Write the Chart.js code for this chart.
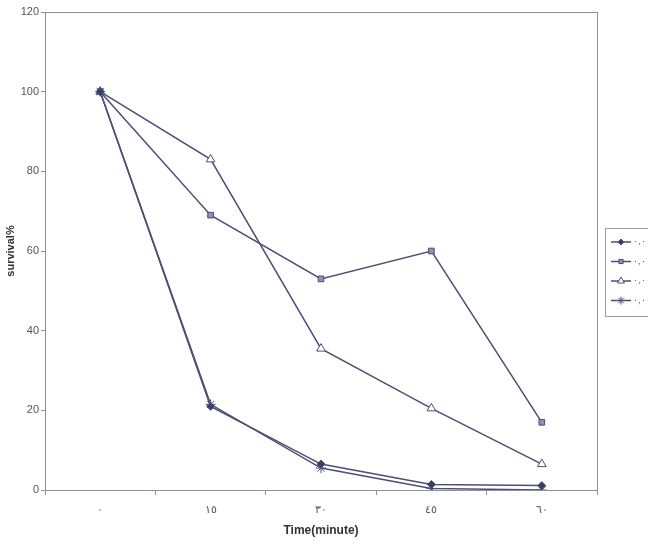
<!DOCTYPE html>
<html>
<head>
<meta charset="utf-8">
<script src="https://cdn.jsdelivr.net/npm/chart.js@4.4.1/dist/chart.umd.min.js"></script>
<style>
    html, body { margin: 0; padding: 0; background: #fff; }
    #wrap { width: 648px; height: 550px; }
</style>
</head>
<body>
<div id="wrap"><canvas id="survivalChart"></canvas></div>
<script>
const timeLabels = ["٠", "١٥", "٣٠", "٤٥", "٦٠"];
const seriesNames = ["٠,٠٠٢", "٠,٠٠٣", "٠,٠٠٤", "٠,٠٠٦"];
const series1 = [100, 21, 6.5, 1.4, 1.1];
const series2 = [100, 69, 53, 60, 17];
const series3 = [100, 83, 35.5, 20.5, 6.5];
const series4 = [100, 21.5, 5.5, 0.4, 0];
const yTicks = [0, 20, 40, 60, 80, 100, 120];

const lineColor = "#4a4f76";
const tickFont = { family: "'Liberation Sans Narrow', 'Liberation Sans', Arial", size: 11 };

function makeSet(label, data, style, fill, radius) {
    return {
        label: label,
        data: data,
        borderColor: lineColor,
        borderWidth: 1.5,
        pointStyle: style,
        pointRadius: radius,
        pointBackgroundColor: fill,
        pointBorderColor: lineColor,
        pointBorderWidth: 1,
        tension: 0
    };
}

const datasets = [
    makeSet(seriesNames[0], series1, "rectRot", "#3a3f66", 4),
    makeSet(seriesNames[1], series2, "rect", "#8c92b4", 4),
    makeSet(seriesNames[2], series3, "triangle", "#ffffff", 5),
    makeSet(seriesNames[3], series4, "star", lineColor, 5)
];

// box round the plot and the boxed legend at the right edge
const framePlugin = {
    id: "frame",
    afterDraw(chart) {
        const { ctx, chartArea: a } = chart;
        ctx.save();
        ctx.strokeStyle = "#8d90a3";
        ctx.lineWidth = 1;
        ctx.strokeRect(Math.round(a.left) + 0.5, Math.round(a.top) + 0.5,
            Math.round(a.right - a.left), Math.round(a.bottom - a.top));

        const boxX = 605, boxY = 228, boxH = 88;
        ctx.strokeStyle = "#9a9cab";
        ctx.strokeRect(boxX + 0.5, boxY + 0.5, 60, boxH);
        chart.data.datasets.forEach((ds, i) => {
            const y = 242 + i * 19.5;
            ctx.strokeStyle = lineColor;
            ctx.lineWidth = 1.5;
            ctx.beginPath();
            ctx.moveTo(611, y);
            ctx.lineTo(631, y);
            ctx.stroke();
            ctx.fillStyle = ds.pointBackgroundColor;
            ctx.strokeStyle = lineColor;
            ctx.lineWidth = 1;
            Chart.helpers.drawPoint(ctx, { pointStyle: ds.pointStyle, radius: ds.pointRadius - 1, rotation: 0, borderWidth: 1 }, 621, y);
            ctx.fillStyle = "#555";
            ctx.font = "9px 'Liberation Sans', Arial";
            ctx.textBaseline = "middle";
            ctx.textAlign = "left";
            ctx.fillText(ds.label, 633, y);
        });
        ctx.restore();
    }
};

new Chart(document.getElementById("survivalChart"), {
    type: "line",
    data: { labels: timeLabels, datasets: datasets },
    options: {
        responsive: true,
        maintainAspectRatio: false,
        animation: false,
        layout: { padding: { top: 12, right: 51, left: 0, bottom: 0 } },
        plugins: {
            legend: { display: false },
            tooltip: { enabled: false }
        },
        scales: {
            x: {
                offset: true,
                grid: { display: true, offset: true, drawOnChartArea: false, tickLength: 5, color: "#8d90a3" },
                border: { color: "#8d90a3" },
                ticks: { color: "#555", font: tickFont, padding: 8 },
                title: {
                    display: true,
                    text: "Time(minute)",
                    color: "#333",
                    font: { family: "'Liberation Sans Narrow', 'Liberation Sans', Arial", size: 12, weight: "bold" },
                    padding: { top: 0, bottom: 12 }
                },
                afterFit(scale) { scale.height = 60; }
            },
            y: {
                min: 0,
                max: 120,
                afterBuildTicks(scale) { scale.ticks = yTicks.map(v => ({ value: v })); },
                grid: { display: true, drawOnChartArea: false, tickLength: 4, color: "#8d90a3" },
                border: { color: "#8d90a3" },
                ticks: { color: "#555", font: tickFont, padding: 2 },
                title: {
                    display: true,
                    text: "survival%",
                    color: "#333",
                    font: { family: "'Liberation Sans', Arial", size: 11, weight: "bold" },
                    padding: { top: 4, bottom: 0 }
                },
                afterFit(scale) { scale.width = 45; }
            }
        }
    },
    plugins: [framePlugin]
});
</script>
</body>
</html>
